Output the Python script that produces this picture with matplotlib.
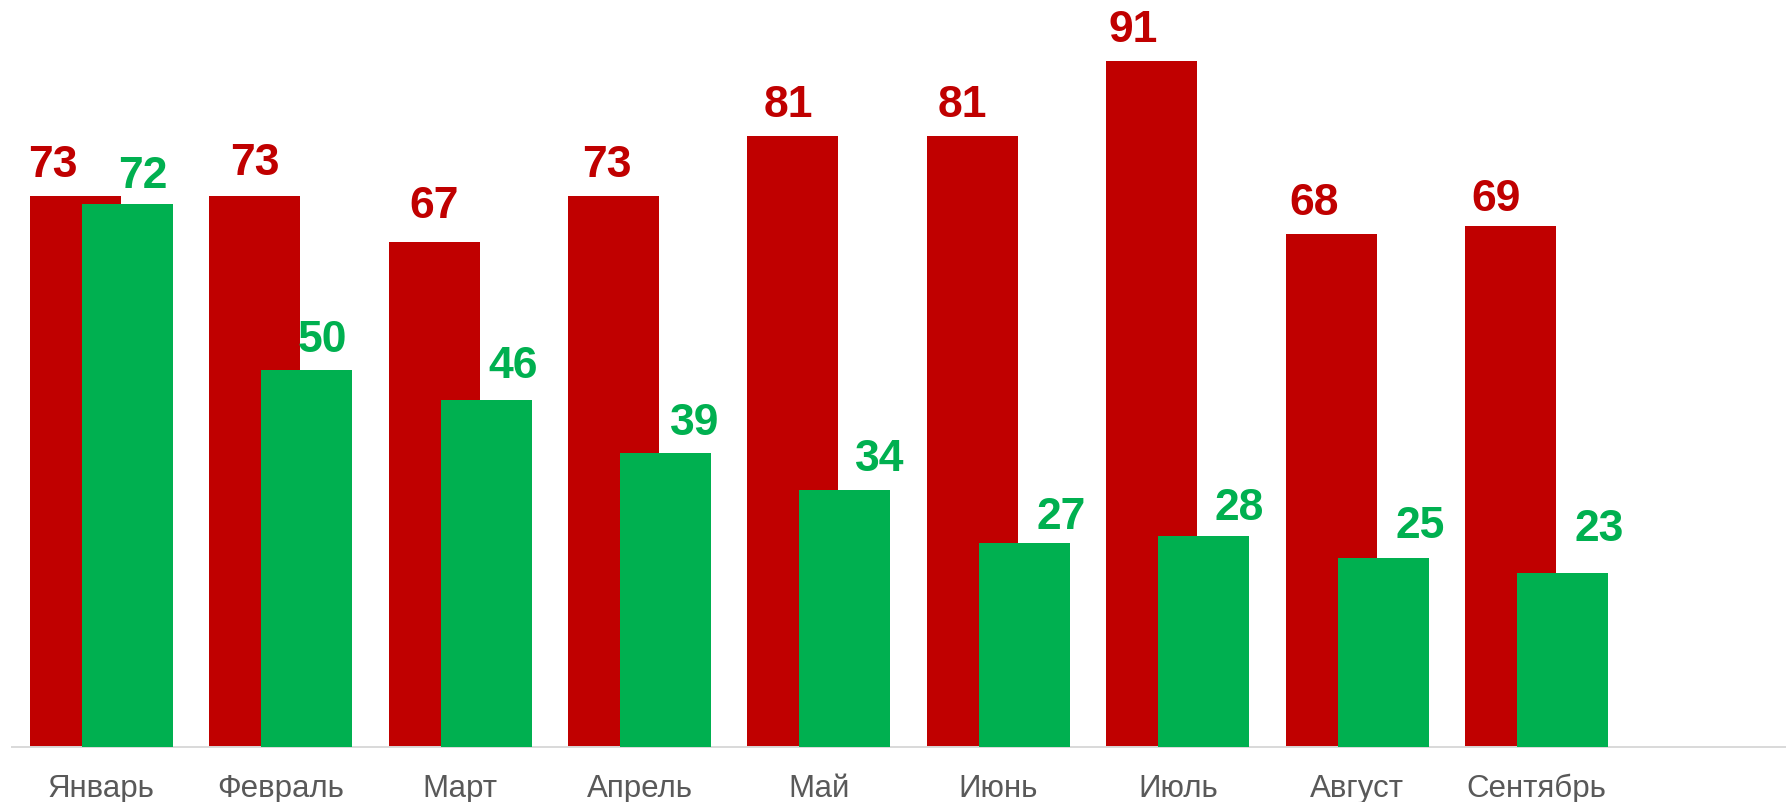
import matplotlib
matplotlib.use("Agg")
import matplotlib.pyplot as plt
import numpy as np

months = ["Январь", "Февраль", "Март", "Апрель", "Май", "Июнь", "Июль", "Август", "Сентябрь"]
red_values = [73, 73, 67, 73, 81, 81, 91, 68, 69]
green_values = [72, 50, 46, 39, 34, 27, 28, 25, 23]

# label offsets in pixels (dx, gap above bar top to baseline)
red_offsets = [(-22, 20), (0, 22), (0, 25), (-7, 20), (-5, 20), (-10, 20), (-19, 20), (-17, 20), (-15, 16)]
green_offsets = [(16, 17), (16, 19), (27, 23), (29, 19), (35, 20), (37, 15), (35, 17), (37, 21), (37, 33)]

RED = "#C00000"
GREEN = "#00B050"

W, H, DPI = 1786, 803, 100
fig = plt.figure(figsize=(W / DPI, H / DPI), dpi=DPI)
ax_left = 11.5 / W
ax_bottom = (H - 747.7) / H
ax = fig.add_axes([ax_left, ax_bottom, 1 - ax_left, 1 - ax_bottom])

x = np.arange(len(months))
bw = 0.507
off = 0.145
bars_r = ax.bar(x - off, red_values, width=bw, color=RED, zorder=2)
bars_g = ax.bar(x + off, green_values, width=bw, color=GREEN, zorder=3)

ax.set_xlim(-0.5, 9.39)
ax.set_ylim(0, 747.7 / 7.54)

for i, v in enumerate(red_values):
    dx, dy = red_offsets[i]
    ax.annotate(str(v), (x[i] - off, v), xytext=(dx, dy), textcoords="offset pixels",
                ha="center", va="baseline", color=RED, fontsize=32,
                fontweight="bold", family="Liberation Sans", zorder=5)
for i, v in enumerate(green_values):
    dx, dy = green_offsets[i]
    ax.annotate(str(v), (x[i] + off, v), xytext=(dx, dy), textcoords="offset pixels",
                ha="center", va="baseline", color=GREEN, fontsize=32,
                fontweight="bold", family="Liberation Sans", zorder=5)

for s in ["top", "right", "left"]:
    ax.spines[s].set_visible(False)
ax.spines["bottom"].set_color("#D9D9D9")
ax.spines["bottom"].set_linewidth(1.4)
ax.set_yticks([])
ax.set_xticks(x)
ax.set_xticklabels(months, fontsize=22.5, color="#595959", family="Liberation Sans")
ax.tick_params(axis="x", length=0, pad=49 * 72 / DPI)
for lab in ax.get_xticklabels():
    lab.set_verticalalignment("baseline")

fig.savefig("out.png", dpi=DPI)
